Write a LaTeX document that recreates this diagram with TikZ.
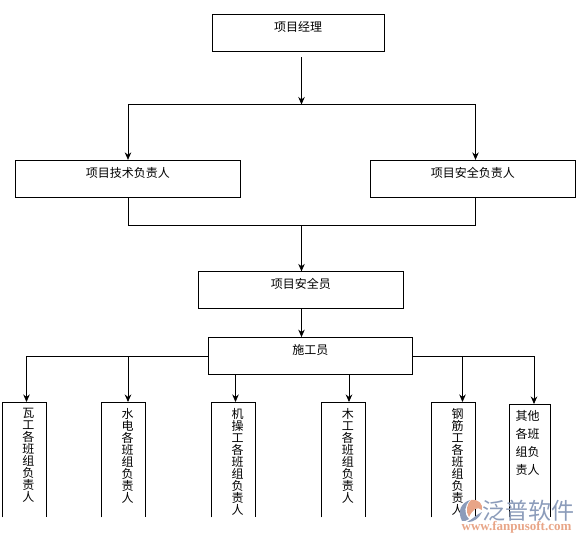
\documentclass[tikz,border=0pt]{standalone}
\usepackage{fontspec}
\setmainfont{Noto Sans CJK SC}
\newfontfamily\urlfont{Liberation Serif}
\usepackage{tikz}
\usetikzlibrary{arrows.meta}
\definecolor{logoblue}{RGB}{140,156,186}
\definecolor{logoorange}{RGB}{232,165,135}
\newcommand{\crewtext}[2]{\parbox[c][115pt][t]{#1}{\leftskip=20pt\rightskip=0pt\baselineskip=12pt\vspace*{6pt}#2}}
\newcommand{\othertext}[1]{\parbox[c][113pt][t]{41pt}{\leftskip=6pt\baselineskip=18pt\vspace*{6pt}#1}}

\begin{document}
\begin{tikzpicture}[x=1pt, y=-1pt, every node/.style={font=\fontsize{12}{12}\selectfont}]
        \useasboundingbox (0,0) rectangle (585,543);
        \tikzstyle{rect} = [draw, thick, inner sep=0pt, text height=17pt, text depth=20pt]
        \tikzstyle{crew} = [inner sep=0pt, anchor=north]
        \tikzstyle{link} = [thick]
        \tikzstyle{linkarrow} = [-{Stealth[length=7.5pt, width=6.5pt]}, thick]
        \tikzstyle{frame} = [thick]
        % upper boxes
        \node[rect, minimum width=172pt] (manager) at (298, 33) {项目经理};
        \node[rect, minimum width=225.5pt] (tech) at (127.75, 178.75) {项目技术负责人};
        \node[rect, minimum width=204.5pt] (safety) at (472.75, 178.75) {项目安全负责人};
        \node[rect, minimum width=204.5pt] (officer) at (300.75, 290.25) {项目安全员};
        \node[rect, minimum width=204pt] (builder) at (310.25, 356) {施工员};
        % crew boxes, open at the bottom
        \node[crew] (wa) at (24, 402) {\crewtext{43.5pt}{瓦\\工\\各\\班\\组\\负\\责\\人}};
        \node[crew] (shuidian) at (123.25, 402) {\crewtext{43.5pt}{水\\电\\各\\班\\组\\负\\责\\人}};
        \node[crew] (jicao) at (233.25, 402) {\crewtext{43.5pt}{机\\操\\工\\各\\班\\组\\负\\责\\人}};
        \node[crew] (mu) at (343.5, 402) {\crewtext{43.5pt}{木\\工\\各\\班\\组\\负\\责\\人}};
        \node[crew] (gangjin) at (453.25, 402) {\crewtext{43.5pt}{钢\\筋\\工\\各\\班\\组\\负\\责\\人}};
        \node[crew] (other) at (530, 404) {\othertext{其他\\各班\\组负\\责人}};
        \draw[frame] (wa.south west) |- (wa.north east) -- (wa.south east);
        \draw[frame] (shuidian.south west) |- (shuidian.north east) -- (shuidian.south east);
        \draw[frame] (jicao.south west) |- (jicao.north east) -- (jicao.south east);
        \draw[frame] (mu.south west) |- (mu.north east) -- (mu.south east);
        \draw[frame] (gangjin.south west) |- (gangjin.north east) -- (gangjin.south east);
        \draw[frame] (other.south west) |- (other.north east) -- (other.south east);
        % junctions
        \coordinate (drop) at (301.5, 57);
        \coordinate (split) at (301.5, 104.5);
        \coordinate (splitl) at (128, 104.5);
        \coordinate (splitr) at (475.5, 104.5);
        \coordinate (joinl) at (128, 225.5);
        \coordinate (joinr) at (475.5, 225.5);
        \coordinate (join) at (301.5, 225.5);
        \coordinate (barl) at (26.5, 356.3);
        \coordinate (barm) at (128, 356.3);
        \coordinate (barr) at (534, 356.3);
        \coordinate (barg) at (462.5, 356.3);
        \coordinate (jicaotop) at (235.5, 374.5);
        \coordinate (mutop) at (349, 374.5);
        % connectors
        \draw[linkarrow] (drop) -- (split);
        \draw[link] (splitl) -- (splitr);
        \draw[linkarrow] (splitl) -- (splitl |- tech.north);
        \draw[linkarrow] (splitr) -- (splitr |- safety.north);
        \draw[link] (joinl |- tech.south) -- (joinl) -- (joinr) -- (joinr |- safety.south);
        \draw[linkarrow] (join) -- (join |- officer.north);
        \draw[linkarrow] (join |- officer.south) -- (join |- builder.north);
        \draw[link] (builder.west |- barl) -- (barl);
        \draw[link] (builder.east |- barr) -- (barr);
        \draw[linkarrow] (barl) -- (barl |- wa.north);
        \draw[linkarrow] (barm) -- (barm |- shuidian.north);
        \draw[linkarrow] (jicaotop) -- (jicaotop |- jicao.north);
        \draw[linkarrow] (mutop) -- (mutop |- mu.north);
        \draw[linkarrow] (barg) -- (barg |- gangjin.north);
        \draw[linkarrow] (barr) -- (barr |- other.north);
        % watermark
        \fill[logoblue] (470, 500) .. controls (461, 503) and (457, 511) .. (462, 521) .. controls (464, 521) and (467, 521) .. (469, 519) .. controls (463, 513) and (465, 505) .. (470, 500);
        \fill[logoorange] (471, 500) .. controls (479, 499) and (483, 504) .. (482, 510) .. controls (477, 506) and (473, 509) .. (469, 517) .. controls (465, 511) and (467, 504) .. (471, 500);
        \fill[logoblue] (482, 512) .. controls (479, 518) and (475, 522) .. (467, 522) .. controls (473, 519) and (477, 514) .. (482, 512);
        \node[text=logoblue, font=\fontsize{23}{23}\selectfont, inner sep=0pt] (brand) at (528.5, 510.5) {泛普软件};
        \node[text=logoorange, font=\urlfont\fontsize{13}{13}\selectfont\bfseries, inner sep=0pt] (site) at (516.5, 527.5) {www.fanpusoft.com};
      \end{tikzpicture}
\end{document}
